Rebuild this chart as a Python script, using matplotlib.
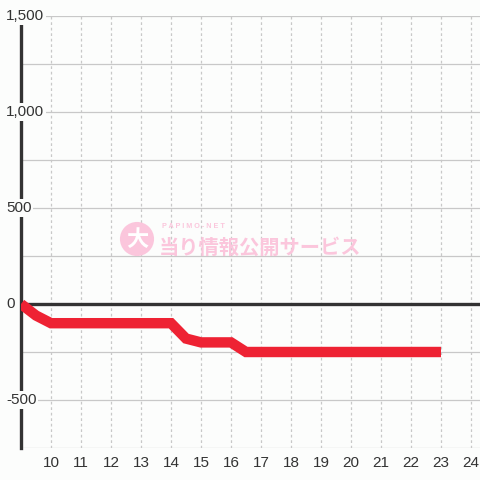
import matplotlib
matplotlib.use("Agg")
import matplotlib.pyplot as plt

# data
x_vals = [9, 9.5, 10, 10.5, 11, 11.5, 12, 12.5, 13, 13.5, 14, 14.5, 15, 15.5, 16, 16.5,
          17, 17.5, 18, 18.5, 19, 19.5, 20, 20.5, 21, 21.5, 22, 22.5, 23]
y_vals = [0, -60, -100, -100, -100, -100, -100, -100, -100, -100, -100, -180, -200, -200, -200, -250,
          -250, -250, -250, -250, -250, -250, -250, -250, -250, -250, -250, -250, -250]
x_ticks = list(range(10, 25))
y_ticks = [-500, 0, 500, 1000, 1500]
y_tick_labels = ["-500", "0", "500", "1,000", "1,500"]
y_grid = [-750, -500, -250, 0, 250, 500, 750, 1000, 1250, 1500]

BG = "#fcfdfc"
TXT = "#333333"
plt.rcParams['font.family'] = ['Liberation Sans', 'DejaVu Sans']

fig = plt.figure(figsize=(4.8, 4.8), dpi=100, facecolor=BG)
ax = fig.add_axes([21/480, 32/480, 459/480, 432/480], facecolor=BG)
ax.set_xlim(9, 24.3)
ax.set_ylim(-750, 1500)

# grid
for g in y_grid:
    ax.axhline(g, color="#c8c8c8", lw=0.9, zorder=1)
for t in x_ticks:
    ax.axvline(t, color="#c8c8c8", lw=0.9, ls=(0, (2.2, 2.2)), zorder=1)

for s in ["top", "right", "bottom"]:
    ax.spines[s].set_visible(False)
ax.spines["left"].set_color("#333333")
ax.spines["left"].set_linewidth(2.4)
ax.spines["left"].set_zorder(2)

ax.axhline(0, color="#333333", lw=2.4, zorder=2.2)

ax.set_xticks(x_ticks)
ax.set_xticklabels([str(t) for t in x_ticks])
ax.tick_params(axis="x", length=0, pad=6, labelsize=11, labelcolor=TXT)
ax.set_yticks([])

for v, lab in zip(y_ticks, y_tick_labels):
    ax.text(-15/459, v, lab, transform=ax.get_yaxis_transform(), ha="left", va="center",
            fontsize=11, color=TXT, zorder=2.5,
            bbox=dict(boxstyle="square,pad=0.1", fc=BG, ec="none"))

ax.plot(x_vals, y_vals, color="#ee2233", lw=7.5, solid_joinstyle="miter", solid_capstyle="butt", zorder=3)

# watermark
pink = "#fbc6dc"
fig.text(137/480, 1 - 239/480, "大", ha="center", va="center", fontsize=16, color="white",
         family=["Noto Sans CJK JP"], weight="bold", zorder=0.5,
         bbox=dict(boxstyle="circle,pad=0.25", fc=pink, ec="none"))
fig.text(159/480, 1 - 247/480, "当り情報公開サービス", ha="left", va="center", fontsize=14.6,
         color=pink, family=["Noto Sans CJK JP"], weight="bold", zorder=0.5)
fig.text(162/480, 1 - 227/480, "P A P I M O - N E T", ha="left", va="center", fontsize=5.2,
         color=pink, weight="bold", zorder=0.5)

fig.savefig("out.png", dpi=100, facecolor=BG)
